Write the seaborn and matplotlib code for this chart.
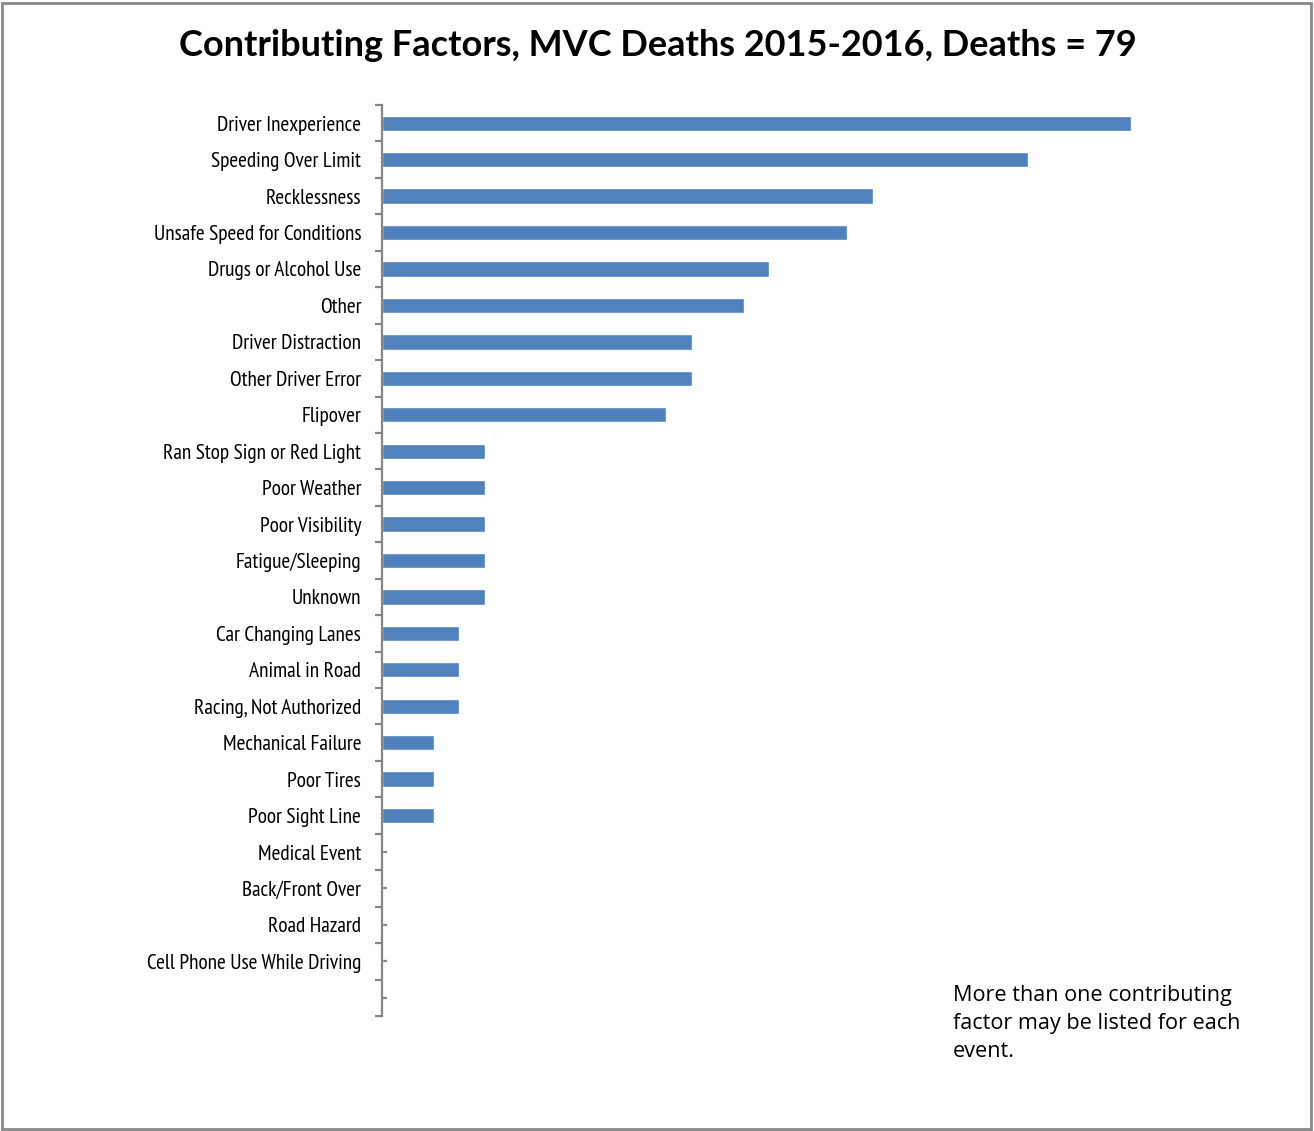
import matplotlib
matplotlib.use("Agg")
import matplotlib.pyplot as plt
from matplotlib.patches import Rectangle
from matplotlib import font_manager
from matplotlib.textpath import TextPath
from matplotlib.font_manager import FontProperties
import seaborn as sns
import pandas as pd
import numpy as np

factors = [
    "Driver Inexperience", "Speeding Over Limit", "Recklessness",
    "Unsafe Speed for Conditions", "Drugs or Alcohol Use", "Other",
    "Driver Distraction", "Other Driver Error", "Flipover",
    "Ran Stop Sign or Red Light", "Poor Weather", "Poor Visibility",
    "Fatigue/Sleeping", "Unknown", "Car Changing Lanes", "Animal in Road",
    "Racing, Not Authorized", "Mechanical Failure", "Poor Tires",
    "Poor Sight Line", "Medical Event", "Back/Front Over", "Road Hazard",
    "Cell Phone Use While Driving",
]
deaths = [29, 25, 19, 18, 15, 14, 12, 12, 11, 4, 4, 4, 4, 4, 3, 3, 3,
          2, 2, 2, 0, 0, 0, 0]

title = "Contributing Factors, MVC Deaths 2015-2016, Deaths = 79"
note = "More than one contributing\nfactor may be listed for each\nevent."

df = pd.DataFrame({"factor": factors, "deaths": deaths})

sns.set_style("white")
plt.rcParams["font.family"] = ["DejaVu Sans"]
plt.rcParams["text.color"] = "black"

# narrow face for the category labels
installed = {f.name for f in font_manager.fontManager.ttflist}
narrow = next((c for c in ["PT Sans Narrow", "Roboto Condensed",
                           "Archivo Narrow"] if c in installed), "DejaVu Sans")

# size the labels so the longest-looking first label spans ~142 px
probe = TextPath((0, 0), factors[0], size=10, prop=FontProperties(family=narrow))
probe_w = probe.get_extents().width * 100 / 72  # points -> px at 100 dpi
label_size = 10 * 142 / probe_w

W, H = 1314, 1131
fig = plt.figure(figsize=(W / 100, H / 100), dpi=100)

left, right, top, bottom = 382, 1286, 105, 1016
ax = fig.add_axes([left / W, 1 - bottom / H, (right - left) / W, (bottom - top) / H])

sns.barplot(data=df, x="deaths", y="factor", order=factors, orient="h",
            color="#4F81BD", saturation=1, width=0.42, ax=ax)

n = len(factors)
ax.set_xlim(0, 35)
ax.set_ylim(n + 0.5, -0.5)
ax.set_xlabel("")
ax.set_ylabel("")
ax.set_xticks([])

for side in ["top", "right", "bottom"]:
    ax.spines[side].set_visible(False)
ax.spines["left"].set_color("#868686")
ax.spines["left"].set_linewidth(1.6)

# boundaries between categories carry outward ticks, centres carry the labels
ax.set_yticks(np.arange(-0.5, n + 1.0, 1.0))
ax.set_yticklabels([])
ax.set_yticks(np.arange(0, n + 1), minor=True)
ax.set_yticklabels(factors + [""], minor=True)
ax.tick_params(axis="y", which="major", direction="out", length=5,
               width=1.6, color="#868686", left=True)
ax.tick_params(axis="y", which="minor", direction="in", length=3.6,
               width=1.6, color="#868686", left=True, pad=15,
               labelsize=label_size, labelcolor="black")
for lab in ax.get_yticklabels(minor=True):
    lab.set_fontfamily([narrow])

fig.text(658 / W, 1 - 46 / H, title, ha="center", va="center",
         fontsize=26, fontweight="bold", color="black",
         family=["Lato", "DejaVu Sans"])

fig.text(953 / W, 1 - 985 / H, note, ha="left", va="top",
         fontsize=15.6, color="black", family=["Open Sans", "DejaVu Sans"],
         linespacing=1.43)

fig.patches.append(Rectangle((2 / W, 2 / H), (W - 5) / W, (H - 5) / H,
                             transform=fig.transFigure, fill=False,
                             edgecolor="#888888", linewidth=2))

fig.savefig("out.png", dpi=100)
